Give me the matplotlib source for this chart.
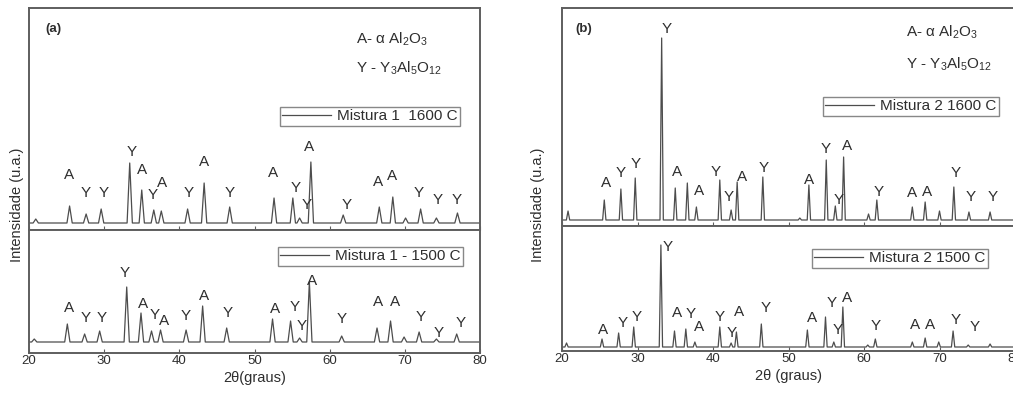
import matplotlib
matplotlib.use("Agg")
import matplotlib.pyplot as plt

plt.rcParams['font.family'] = ['Liberation Sans', 'DejaVu Sans']
plt.rcParams['mathtext.fontset'] = 'custom'
plt.rcParams['mathtext.rm'] = 'Liberation Sans'
plt.rcParams['mathtext.it'] = 'Liberation Sans:italic'

# --- data (2theta in degrees, intensity in arbitrary units) ---
a_hi_pos = [20.9, 25.4, 27.6, 29.6, 33.4, 35.0, 36.6, 37.6, 41.1, 43.3, 46.7, 52.6, 55.1, 56.0,
            57.5, 61.8, 66.6, 68.4, 70.1, 72.1, 74.2, 77.0]
a_hi_int = [11, 24, 16, 21, 67, 40, 20, 19, 21, 47, 23, 32, 32, 12, 68, 15, 23, 33, 12, 21, 12, 17]
a_hi_base = 7

a_lo_pos = [20.7, 25.1, 27.4, 29.4, 33.0, 34.9, 36.3, 37.5, 40.9, 43.1, 46.3, 52.4, 54.8, 56.0,
            57.3, 61.6, 66.3, 68.1, 69.9, 71.9, 74.2, 76.9]
a_lo_int = [14, 29, 19, 22, 66, 40, 22, 23, 23, 47, 25, 34, 32, 15, 71, 17, 25, 32, 16, 21, 14, 19]
a_lo_base = 11

b_hi_pos = [20.8, 25.6, 27.8, 29.7, 33.2, 35.0, 36.6, 37.8, 40.9, 42.4, 43.2, 46.6, 51.5, 52.7,
            55.0, 56.2, 57.3, 60.6, 61.7, 66.4, 68.1, 70.0, 71.9, 73.9, 76.7]
b_hi_int = [15, 26, 37, 48, 188, 38, 43, 19, 46, 16, 44, 49, 8, 41, 66, 20, 69, 12, 26, 19, 24,
            15, 39, 14, 14]
b_hi_base = 6

b_lo_pos = [20.6, 25.3, 27.5, 29.5, 33.1, 34.9, 36.4, 37.6, 40.9, 42.4, 43.1, 46.4, 52.5, 54.9,
            56.0, 57.2, 60.5, 61.5, 66.4, 68.1, 69.9, 71.8, 73.8, 76.7]
b_lo_int = [8, 12, 18, 24, 106, 20, 22, 9, 24, 8, 19, 27, 21, 34, 9, 44, 6, 12, 9, 13, 9, 20, 6, 7]
b_lo_base = 4

# phase labels: (letter, 2theta, height)
a_hi_labels = [('A', 25.3, 55), ('Y', 27.6, 37), ('Y', 30.0, 37), ('Y', 33.6, 78), ('A', 35.1, 60),
               ('Y', 36.5, 35), ('A', 37.7, 47), ('Y', 41.2, 37), ('A', 43.3, 68), ('Y', 46.7, 37),
               ('A', 52.5, 57), ('Y', 55.5, 42), ('A', 57.3, 83), ('Y', 56.9, 25), ('Y', 62.3, 25),
               ('A', 66.4, 48), ('A', 68.3, 54), ('Y', 71.9, 37), ('Y', 74.4, 30), ('Y', 76.9, 30)]
a_lo_labels = [('A', 25.3, 45), ('Y', 27.6, 35), ('Y', 29.7, 35), ('Y', 32.8, 80), ('A', 35.2, 49),
               ('Y', 36.7, 38), ('A', 38.0, 32), ('Y', 40.9, 37), ('A', 43.3, 57), ('Y', 46.4, 40),
               ('A', 52.7, 44), ('Y', 55.3, 46), ('Y', 56.3, 27), ('A', 57.6, 72), ('Y', 61.6, 34),
               ('A', 66.4, 51), ('A', 68.7, 51), ('Y', 72.1, 36), ('Y', 74.5, 20), ('Y', 77.4, 30)]
b_hi_labels = [('Y', 33.9, 197), ('A', 25.8, 43), ('Y', 27.8, 53), ('Y', 29.7, 62), ('A', 35.2, 54),
               ('A', 38.1, 35), ('Y', 40.4, 54), ('Y', 42.1, 29), ('A', 43.9, 49), ('Y', 46.7, 58),
               ('A', 52.7, 46), ('Y', 54.9, 77), ('A', 57.8, 80), ('Y', 56.6, 26), ('Y', 62.0, 34),
               ('A', 66.3, 33), ('A', 68.4, 34), ('Y', 72.2, 53), ('Y', 74.2, 29), ('Y', 77.0, 29)]
b_lo_labels = [('Y', 34.0, 104), ('A', 25.4, 21), ('Y', 28.1, 28), ('Y', 29.9, 34), ('A', 35.2, 38),
               ('Y', 37.1, 37), ('A', 38.2, 24), ('Y', 40.9, 34), ('Y', 42.5, 18), ('A', 43.4, 39),
               ('Y', 47.0, 43), ('A', 53.1, 33), ('Y', 55.7, 48), ('A', 57.7, 53), ('Y', 56.5, 21),
               ('Y', 61.5, 25), ('A', 66.7, 26), ('A', 68.8, 26), ('Y', 72.2, 31), ('Y', 74.6, 24)]

x_ticks = [20, 30, 40, 50, 60, 70, 80]

LINE = '#4d4d4d'
SPINE = '#5e5e5e'
TXT = '#2e2e2e'
W, H = 1013, 394


def trace(pos, inten, base, half):
    xs, ys = [20], [base]
    for p, h in zip(pos, inten):
        xs += [p - half, p, p + half]
        ys += [base, h, base]
    xs.append(80)
    ys.append(base)
    return xs, ys


def make_ax(fig, left, right, top, bottom, ymax):
    ax = fig.add_axes([left / W, (H - bottom) / H, (right - left) / W, (bottom - top) / H])
    ax.set_xlim(20, 80)
    ax.set_ylim(0, ymax)
    for s in ax.spines.values():
        s.set_color(SPINE)
        s.set_linewidth(1.4)
    ax.set_xticks(x_ticks)
    ax.set_yticks([])
    ax.tick_params(direction='in', length=3, color=SPINE, labelsize=9.5, pad=1.5,
                   labelcolor=TXT)
    return ax


def draw(ax, pos, inten, base, half, labels, name, anchor):
    xs, ys = trace(pos, inten, base, half)
    ax.plot(xs, ys, color=LINE, lw=0.9, label=name)
    for letter, x, y in labels:
        ax.text(x, y, letter, ha='center', va='center', fontsize=11, color=TXT)
    leg = ax.legend(loc='upper right', bbox_to_anchor=anchor, borderaxespad=0,
                    fancybox=False, fontsize=11, handlelength=3.2, borderpad=0.15,
                    handletextpad=0.4, framealpha=1)
    leg.get_frame().set_edgecolor('#888888')
    leg.get_frame().set_linewidth(1.0)
    for t in leg.get_texts():
        t.set_color(TXT)


fig = plt.figure(figsize=(W / 100, H / 100), dpi=100)

# panel (a)
ax1 = make_ax(fig, 29, 480, 8, 230, 222)
ax1.tick_params(labelbottom=False)
draw(ax1, a_hi_pos, a_hi_int, a_hi_base, 0.35, a_hi_labels, 'Mistura 1  1600 C', (0.956, 0.554))
ax2 = make_ax(fig, 29, 480, 230, 353, 123)
draw(ax2, a_lo_pos, a_lo_int, a_lo_base, 0.35, a_lo_labels, 'Mistura 1 - 1500 C', (0.962, 0.862))
ax2.set_xlabel('2θ(graus)', fontsize=10.5, labelpad=3, color=TXT)
ax1.text(0.037, 0.89, '(a)', transform=ax1.transAxes, fontsize=9.5, fontweight='bold', color=TXT)
ax1.text(0.725, 0.84, r'A- α $\mathregular{Al_2O_3}$', transform=ax1.transAxes, fontsize=11, color=TXT)
ax1.text(0.725, 0.71, r'Y - $\mathregular{Y_3Al_5O_{12}}$', transform=ax1.transAxes, fontsize=11, color=TXT)
fig.text(17 / W, 1 - 205 / H, 'Intensidade (u.a.)', rotation=90, ha='center', va='center',
         fontsize=10.5, color=TXT)

# panel (b)
ax3 = make_ax(fig, 562, 1015, 8, 226, 218)
ax3.tick_params(labelbottom=False)
draw(ax3, b_hi_pos, b_hi_int, b_hi_base, 0.22, b_hi_labels, 'Mistura 2 1600 C', (0.965, 0.592))
ax4 = make_ax(fig, 562, 1015, 226, 351, 125)
draw(ax4, b_lo_pos, b_lo_int, b_lo_base, 0.22, b_lo_labels, 'Mistura 2 1500 C', (0.940, 0.816))
ax4.set_xlabel('2θ (graus)', fontsize=10.5, labelpad=3, color=TXT)
ax3.text(0.03, 0.89, '(b)', transform=ax3.transAxes, fontsize=9.5, fontweight='bold', color=TXT)
ax3.text(0.76, 0.87, r'A- α $\mathregular{Al_2O_3}$', transform=ax3.transAxes, fontsize=11, color=TXT)
ax3.text(0.76, 0.72, r'Y - $\mathregular{Y_3Al_5O_{12}}$', transform=ax3.transAxes, fontsize=11, color=TXT)
fig.text(538 / W, 1 - 205 / H, 'Intensidade (u.a.)', rotation=90, ha='center', va='center',
         fontsize=10.5, color=TXT)

fig.savefig('out.png', dpi=100)
